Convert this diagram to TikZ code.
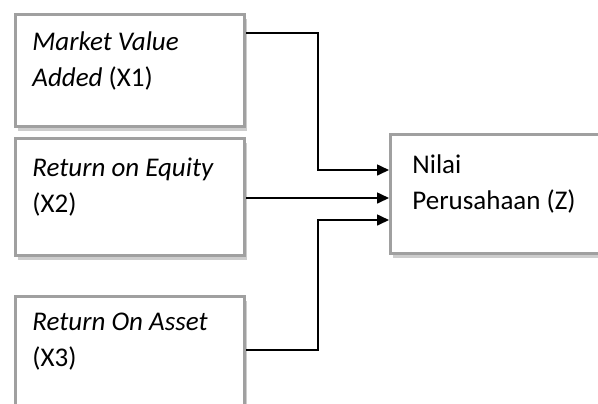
\documentclass[tikz,border=0pt]{standalone}
\usepackage{fontspec}
\setmainfont{Carlito}
\usetikzlibrary{arrows.meta,positioning,shadows}
\definecolor{framegray}{RGB}{160,160,160}
\definecolor{shadegray}{RGB}{205,205,205}
\tikzset{
  varbox/.style={draw=framegray,line width=1.5pt,fill=white,anchor=north west,inner sep=0pt,
    minimum width=114.5pt,drop shadow={shadow xshift=1.2pt,shadow yshift=-2pt,fill=shadegray,opacity=1}},
  vartext/.style={inner sep=0pt,align=left,anchor=north west,font=\fontsize{13.5}{18}\selectfont},
  flow/.style={-{Triangle[length=6pt,width=5.5pt]},line width=0.8pt,draw=black}
}

\begin{document}
\begin{tikzpicture}[x=0.5pt,y=-0.5pt]
  \useasboundingbox (0,0) rectangle (598,403);
  \clip (0,0) rectangle (598,403);
  % variable boxes
  \node[varbox,minimum height=56pt] (mva) at (14,13) {};
  \node[varbox,minimum height=58.5pt] (roe) at (14,137) {};
  \node[varbox,minimum height=62pt] (roa) at (14,295) {};
  \node[varbox,minimum width=116pt,minimum height=59.5pt] (nilai) at (389,133) {};
  \node[vartext,below right=9pt and 9pt of mva.north west] (mvatxt) {\textit{Market Value}\\\textit{Added} (X1)};
  \node[vartext,below right=10.5pt and 9pt of roe.north west] (roetxt) {\textit{Return on Equity}\\(X2)};
  \node[vartext,below right=9pt and 9pt of roa.north west] (roatxt) {\textit{Return On Asset}\\(X3)};
  \node[vartext,below right=10.5pt and 11.5pt of nilai.north west] (nilaitxt) {Nilai\\Perusahaan (Z)};
  % connectors
  \coordinate (bend) at (318,0);
  \draw[flow] ([yshift=-10pt]mva.north east) -- ([yshift=-10pt]mva.north east -| bend) |- ([yshift=-18.5pt]nilai.north west);
  \draw[flow] ([yshift=-30.5pt]roe.north east) -- ([yshift=-32.5pt]nilai.north west);
  \draw[flow] ([yshift=-27.5pt]roa.north east) -- ([yshift=-27.5pt]roa.north east -| bend) |- ([yshift=-43.5pt]nilai.north west);
\end{tikzpicture}
\end{document}
